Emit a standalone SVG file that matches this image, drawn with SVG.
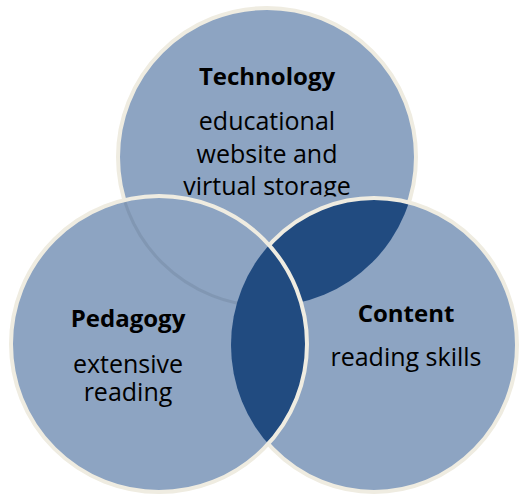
<svg xmlns="http://www.w3.org/2000/svg" width="519" height="497" viewBox="0 0 519 497">
  <style>
    .fill { fill: #8DA4C2; }
    .ring { fill: none; stroke: #EFECE1; stroke-width: 4; }
    .dark { fill: #214B80; }
    .ghost { fill: none; stroke: #7E93AF; stroke-width: 3; opacity: 0.8; }
    .title { font-family: "Open Sans", "Liberation Sans", sans-serif; font-weight: bold; font-size: 24px; fill: #000; text-anchor: middle; }
    .body { font-family: "Open Sans", "Liberation Sans", sans-serif; font-size: 25px; fill: #000; text-anchor: middle; }
  </style>
  <defs>
    <clipPath id="clipTech"><circle cx="267" cy="157" r="149"/></clipPath>
    <clipPath id="clipPed"><circle cx="159" cy="344" r="148"/></clipPath>
    <clipPath id="clipCont"><ellipse cx="374" cy="345" rx="143" ry="147"/></clipPath>
    <clipPath id="clipTechText"><rect x="0" y="0" width="519" height="196.5"/></clipPath>
  </defs>
  <rect width="519" height="497" fill="#FFFFFF"/>

  <g id="technology">
    <circle class="fill" cx="267" cy="157" r="149"/>
    <circle class="ring" cx="267" cy="157" r="149"/>
    <g clip-path="url(#clipTechText)">
      <text class="title" x="267" y="85">Technology</text>
      <text class="body" x="267" y="130">educational</text>
      <text class="body" x="267" y="163">website and</text>
      <text class="body" x="267" y="195">virtual storage</text>
    </g>
  </g>

  <g id="content">
    <ellipse class="fill" cx="374" cy="345" rx="143" ry="147"/>
    <g id="overlap-technology-content" clip-path="url(#clipCont)">
      <circle class="dark" cx="267" cy="157" r="149"/>
    </g>
    <ellipse class="ring" cx="374" cy="345" rx="143" ry="147"/>
    <text class="title" x="406" y="322">Content</text>
    <text class="body" x="406" y="366">reading skills</text>
  </g>

  <g id="pedagogy">
    <circle class="fill" cx="159" cy="344" r="148"/>
    <g clip-path="url(#clipPed)">
      <circle class="ghost" cx="267" cy="157" r="149"/>
    </g>
    <g id="overlap-pedagogy-content" clip-path="url(#clipPed)">
      <ellipse class="dark" cx="374" cy="345" rx="143" ry="147"/>
    </g>
    <circle class="ring" cx="159" cy="344" r="148"/>
    <text class="title" x="128" y="327">Pedagogy</text>
    <text class="body" x="128" y="373">extensive</text>
    <text class="body" x="128" y="401">reading</text>
  </g>

  <g id="connectors"></g>
</svg>
